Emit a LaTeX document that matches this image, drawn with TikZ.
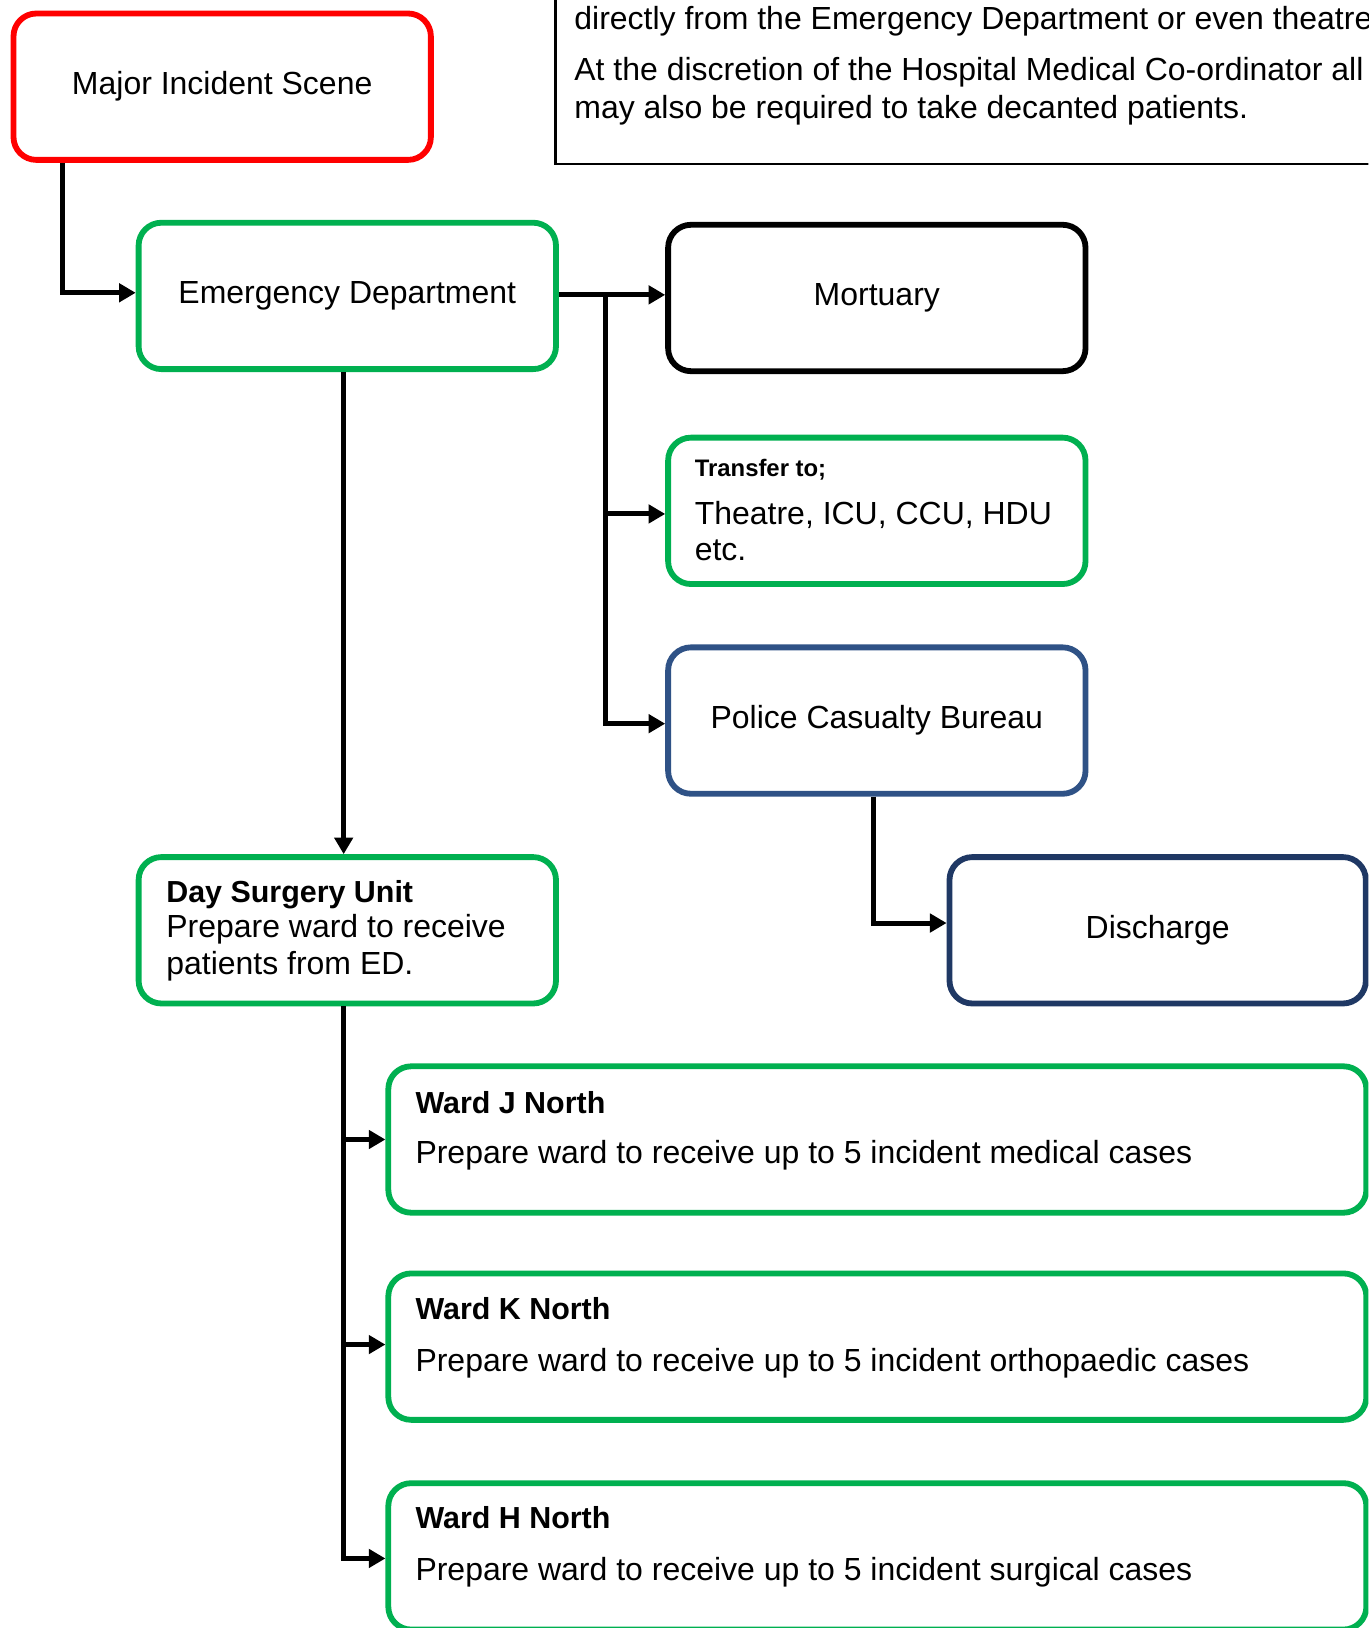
\documentclass[tikz,border=0pt]{standalone}
\usepackage{fontspec}
\setmainfont{Liberation Sans}
\usetikzlibrary{arrows.meta}

\definecolor{boxgreen}{HTML}{00B050}
\definecolor{boxred}{HTML}{FF0000}
\definecolor{boxblue}{HTML}{2F5286}
\definecolor{boxnavy}{HTML}{1F3864}

\tikzset{
  flowbox/.style={draw, line width=5.6pt, rounded corners=22pt,
    minimum width=402pt, minimum height=141pt, inner sep=0pt,
    font=\fontsize{30.8}{36}\selectfont},
  txt/.style={anchor=base west, inner sep=0pt,
    font=\fontsize{30.8}{36}\selectfont},
  headtxt/.style={anchor=base west, inner sep=0pt,
    font=\fontsize{29.3}{35}\selectfont\bfseries},
  conn/.style={draw, line width=4.8pt, -{Triangle[length=16pt,width=17.5pt]}},
}

\begin{document}
\begin{tikzpicture}[x=1pt,y=-1pt]
\useasboundingbox (0,0) rectangle (1318,1568);
\clip (0,0) rectangle (1318,1568);
\fill[white] (0,0) rectangle (1318,1568);

% explanatory note (upper right)
\node[draw, line width=2pt, anchor=south west, minimum width=900pt,
      minimum height=300pt, inner sep=0pt] (note) at (534,159) {};
\node[txt] (note1) at (553,28) {directly from the Emergency Department or even theatre};
\node[txt] (note2) at (553,78) {At the discretion of the Hospital Medical Co-ordinator all};
\node[txt] (note3) at (553,114) {may also be required to take decanted patients.};

% main boxes
\node[flowbox, draw=boxred]   (mis)  at (214,83.5)  {Major Incident Scene};
\node[flowbox, draw=boxgreen] (ed)   at (334.5,285) {Emergency Department};
\node[flowbox, draw=black]    (mort) at (844.5,287) {Mortuary};
\node[flowbox, draw=boxgreen] (tr)   at (844.5,492) {};
\node[flowbox, draw=boxblue]  (pol)  at (844.5,694) {Police Casualty Bureau};
\node[flowbox, draw=boxnavy, minimum width=401pt] (dis) at (1115,896) {Discharge};
\node[flowbox, draw=boxgreen] (dsu)  at (334.5,896) {};
\node[flowbox, draw=boxgreen, minimum width=942pt] (wj) at (845,1097.5) {};
\node[flowbox, draw=boxgreen, minimum width=942pt] (wk) at (845,1297) {};
\node[flowbox, draw=boxgreen, minimum width=942pt] (wh) at (845,1499) {};

% texts of the multi-line boxes
\node[anchor=base west, inner sep=0pt, font=\fontsize{23}{27}\selectfont\bfseries]
  (tr1) at (669,459) {Transfer to;};
\node[txt] (tr2) at (669,505) {Theatre, ICU, CCU, HDU};
\node[txt] (tr3) at (669,540) {etc.};

\node[headtxt] (dsu1) at (160,869) {Day Surgery Unit};
\node[txt] (dsu2) at (160,903) {Prepare ward to receive};
\node[txt] (dsu3) at (160,939) {patients from ED.};

\node[headtxt] (wj1) at (400,1072) {Ward J North};
\node[txt] (wj2) at (400,1121) {Prepare ward to receive up to 5 incident medical cases};
\node[headtxt] (wk1) at (400,1271) {Ward K North};
\node[txt] (wk2) at (400,1321) {Prepare ward to receive up to 5 incident orthopaedic cases};
\node[headtxt] (wh1) at (400,1472) {Ward H North};
\node[txt] (wh2) at (400,1522) {Prepare ward to receive up to 5 incident surgical cases};

% connectors
\draw[conn] ([xshift=50pt]mis.south west) |- ([yshift=3pt]ed.west);
\draw[conn] ([yshift=1pt]ed.east) -- ([yshift=1pt]ed.east -| mort.west);
\coordinate (br) at (583,284);
\draw[conn] (br) |- ([yshift=-3pt]tr.west);
\draw[conn] (br) |- ([yshift=-3pt]pol.west);
\draw[conn] ([xshift=-3.5pt]ed.south) -- ([xshift=-3.5pt]dsu.north);
\draw[conn] ([xshift=-3.5pt]pol.south) |- ([yshift=7pt]dis.west);
\draw[conn] ([xshift=-3.5pt]dsu.south) |- (wj.west);
\draw[conn] ([xshift=-3.5pt]dsu.south) |- ([yshift=2pt]wk.west);
\draw[conn] ([xshift=-3.5pt]dsu.south) |- ([yshift=-2pt]wh.west);
\end{tikzpicture}
\end{document}
